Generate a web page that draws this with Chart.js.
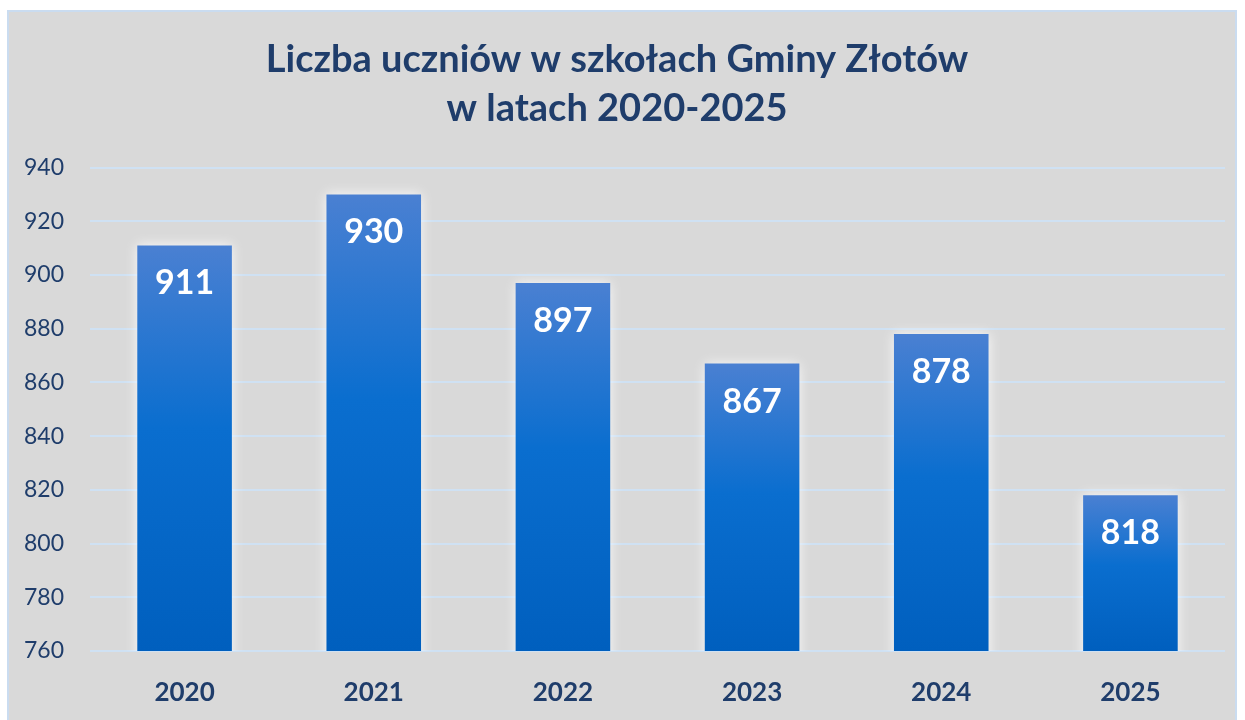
<!DOCTYPE html>
<html>
<head>
<meta charset="utf-8">
<script src="https://cdn.jsdelivr.net/npm/chart.js"></script>
<style>
  html, body { margin: 0; padding: 0; background: #ffffff; }
  #box {
    position: absolute; left: 7px; top: 10px;
    width: 1226px; height: 708px;
    background: #d9d9d9;
    border: 2px solid #cadcf0;
    border-bottom: none;
  }
  #c { display: block; }
</style>
</head>
<body>
<div id="box"><canvas id="c" width="1226" height="708"></canvas></div>
<script>
const years = ['2020', '2021', '2022', '2023', '2024', '2025'];
const students = [911, 930, 897, 867, 878, 818];
const yMin = 760;
const yMax = 940;
const yStep = 20;

const navy = '#1f3d6b';

// gradient for every bar, from its own top down to the axis
function barGradient(context) {
  const chart = context.chart;
  const area = chart.chartArea;
  if (!area || !chart.scales.y) return '#0a6ecf';
  const top = chart.scales.y.getPixelForValue(context.raw);
  const g = chart.ctx.createLinearGradient(0, top, 0, area.bottom);
  g.addColorStop(0, '#4a80d2');
  g.addColorStop(0.45, '#0a6ecf');
  g.addColorStop(1, '#005fbe');
  return g;
}

const glow = {
  id: 'glow',
  beforeDatasetsDraw(chart) {
    chart.ctx.save();
    chart.ctx.shadowColor = 'rgba(255,255,255,0.85)';
    chart.ctx.shadowBlur = 12;
  },
  afterDatasetsDraw(chart) {
    chart.ctx.restore();
  }
};

const valueLabels = {
  id: 'valueLabels',
  afterDatasetsDraw(chart) {
    const ctx = chart.ctx;
    const meta = chart.getDatasetMeta(0);
    ctx.save();
    ctx.fillStyle = '#ffffff';
    ctx.font = 'bold 34px Lato';
    ctx.textAlign = 'center';
    ctx.textBaseline = 'middle';
    meta.data.forEach((bar, i) => {
      ctx.fillText(String(students[i]), bar.x, bar.y + 38);
    });
    ctx.restore();
  }
};

new Chart(document.getElementById('c'), {
  type: 'bar',
  data: {
    labels: years,
    datasets: [{
      data: students,
      backgroundColor: barGradient,
      borderWidth: 0,
      categoryPercentage: 1,
      barPercentage: 0.5
    }]
  },
  options: {
    responsive: false,
    animation: false,
    layout: { padding: { left: 0, right: 10, top: 0, bottom: 0 } },
    plugins: {
      legend: { display: false },
      tooltip: { enabled: false },
      title: {
        display: true,
        text: ['Liczba uczniów w szkołach Gminy Złotów', 'w latach 2020-2025'],
        color: navy,
        font: { family: 'Lato', size: 38, weight: 'bold', lineHeight: 1.27 },
        padding: { top: 24, bottom: 35 }
      }
    },
    scales: {
      x: {
        grid: { display: false, drawTicks: false },
        border: { display: false },
        ticks: {
          color: navy,
          font: { family: 'Lato', size: 26, weight: 'bold' },
          padding: 26
        },
        afterFit(scale) { scale.height = 69; }
      },
      y: {
        min: yMin,
        max: yMax,
        grid: { color: '#cfe1f3', lineWidth: 2, drawTicks: false },
        border: { display: false },
        ticks: {
          stepSize: yStep,
          color: navy,
          font: { family: 'Lato', size: 23 },
          padding: 26
        },
        afterFit(scale) { scale.width = 81; }
      }
    }
  },
  plugins: [glow, valueLabels]
});
</script>
</body>
</html>
